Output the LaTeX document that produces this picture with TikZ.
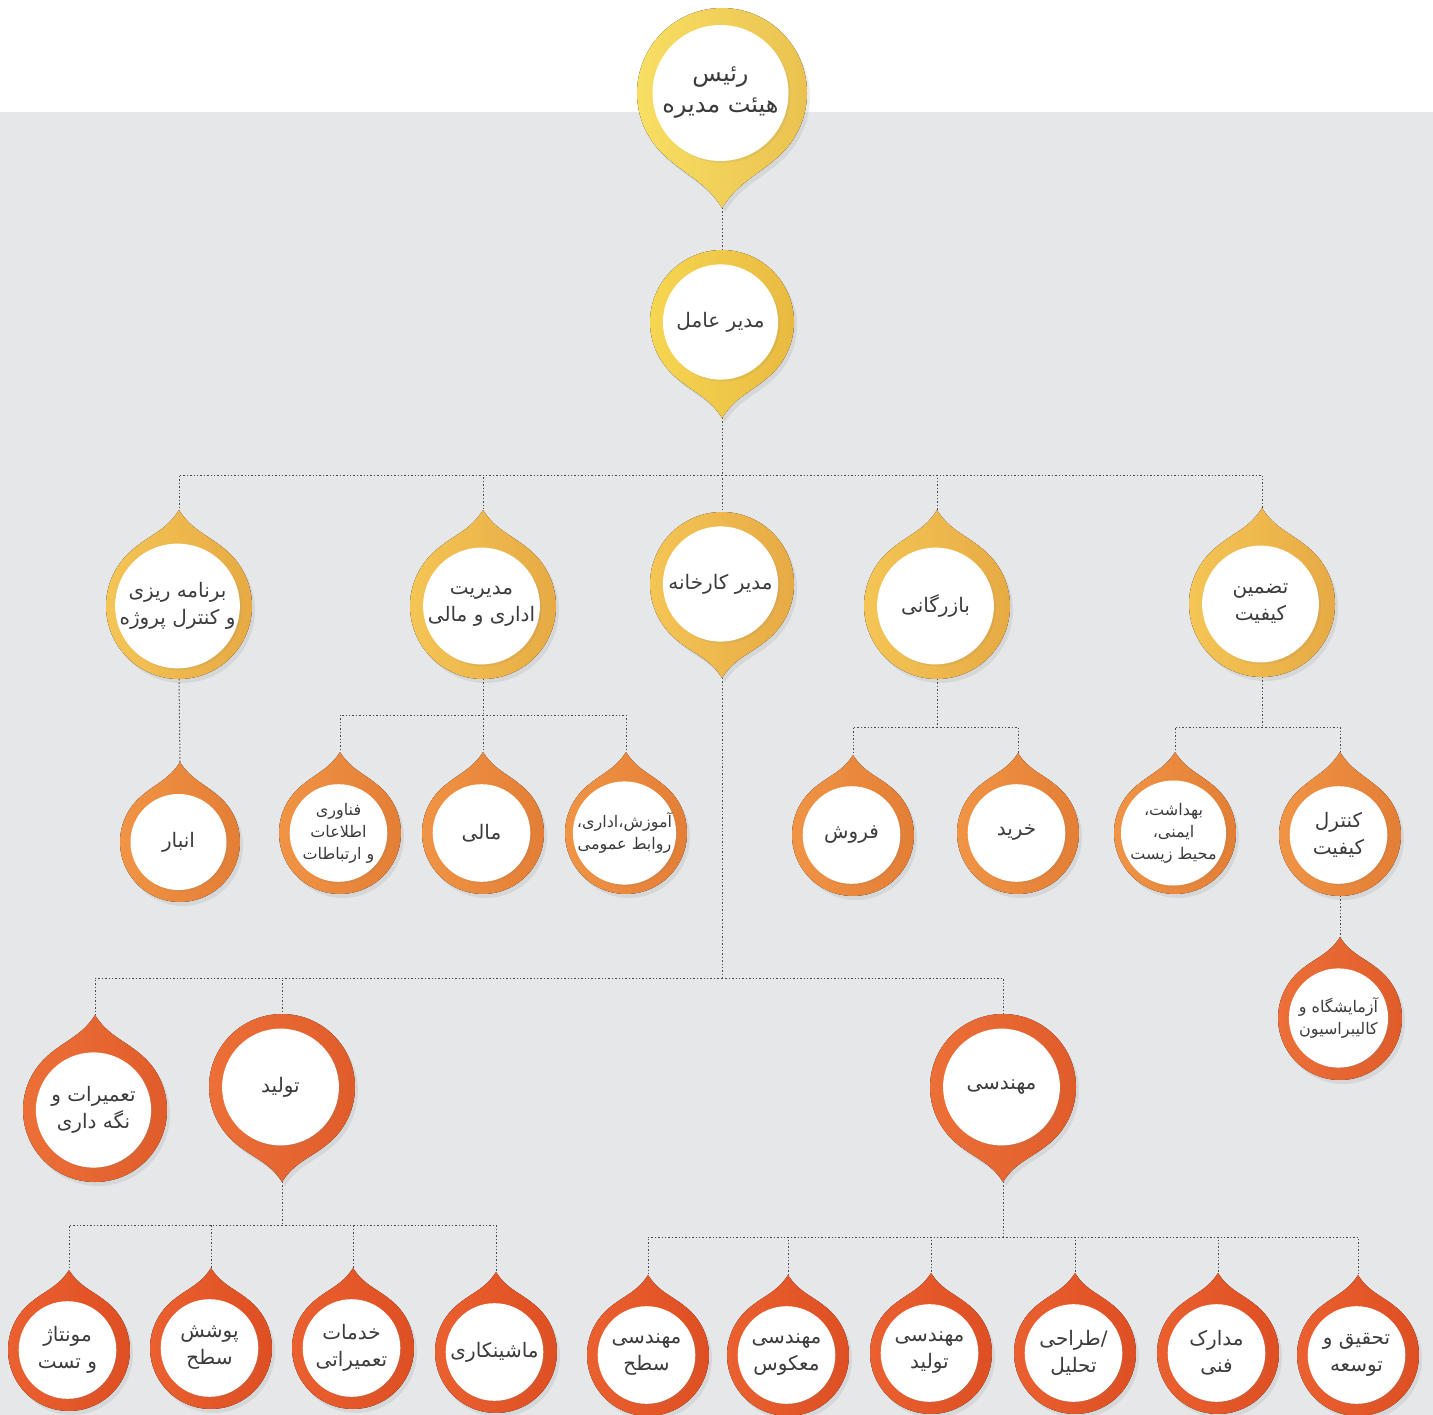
\documentclass[tikz,border=0pt]{standalone}
\usepackage{fontspec}
\newfontfamily\arabicfont[Script=Arabic]{DejaVu Sans}
\TeXXeTstate=1
\usetikzlibrary{shadows}

\definecolor{bgcol}{HTML}{E6E7E9}
\definecolor{wirecol}{HTML}{4A4A4A}
\definecolor{txtcol}{HTML}{3C3C3C}
\definecolor{lvA}{HTML}{F8DE5C}
\definecolor{lvB}{HTML}{F6D54A}
\definecolor{lvC}{HTML}{F4C34E}
\definecolor{lvD}{HTML}{F0903D}
\definecolor{lvE}{HTML}{EC6A30}
\definecolor{lvF}{HTML}{EA5A27}

\newcommand{\rl}[1]{\beginR#1\endR}

\tikzset{
	drop body/.style={
		left color=#1!96!white,
		right color=#1!92!red!94!black,
		drop shadow={opacity=.15, shadow xshift=3pt, shadow yshift=-4pt}
	},
	label disc/.style={
		circle,
		fill=white,
		inner sep=0pt,
		align=center,
		text=txtcol,
		drop shadow={opacity=.12, shadow xshift=2pt, shadow yshift=-2pt}
	},
	tipup/.style={},
	tipdown/.style={yscale=-1},
	big text/.style={font=\arabicfont\fontsize{24}{31}\selectfont},
	small text/.style={font=\arabicfont\fontsize{16}{22}\selectfont},
	wire/.style={
		draw=wirecol,
		line width=1pt,
		dash pattern=on 1.4pt off 2pt
	},
}

% #1 name, #2 centre, #3 radius, #4 tip height, #5 colour, #6 options, #7 text
\newcommand{\drop}[7]{%
	\begin{scope}[shift={#2}, font=\arabicfont\fontsize{20}{27}\selectfont, #6]
		\fill[drop body=#5] (0,#4) to[out=-58,in=138] (48:#3)
			arc[start angle=48, end angle=-228, radius=#3]
			to[out=42,in=-122] (0,#4) -- cycle;
		\coordinate (#1-tip) at (0,#4);
		\coordinate (#1-base) at (0,-#3);
		\node[label disc, minimum size={1.6*#3*1pt}] (#1) at (-1.5,0) {#7};
	\end{scope}}

\begin{document}
\begin{tikzpicture}[x=1pt, y=1pt]

\useasboundingbox (0,0) rectangle (1433,-1415);
\fill[white] (0,0) rectangle (1433,-112);
\fill[bgcol] (0,-112) rectangle (1433,-1415);

% top
\drop{chair}{(722,-93)}{85}{115}{lvA}{tipdown, big text}{\rl{رئیس}\\\rl{هیئت مدیره}}
\drop{ceo}{(722,-322)}{72}{96}{lvB}{tipdown}{\rl{مدیر عامل}}

% second level
\drop{plan}{(179,-606)}{73}{96}{lvC}{tipup}{\rl{برنامه ریزی}\\\rl{و کنترل پروژه}}
\drop{admin}{(483,-606)}{73}{96}{lvC}{tipup}{\rl{مدیریت}\\\rl{اداری و مالی}}
\drop{factory}{(722,-584)}{72}{94}{lvC}{tipdown}{\rl{مدیر کارخانه}}
\drop{trade}{(937,-606)}{73}{96}{lvC}{tipup}{\rl{بازرگانی}}
\drop{qa}{(1262,-604)}{73}{96}{lvC}{tipup}{\rl{تضمین}\\\rl{کیفیت}}

% third level
\drop{store}{(180,-842)}{60}{80}{lvD}{tipup}{\rl{انبار}}
\drop{it}{(340,-833)}{61}{81}{lvD}{tipup, small text}{\rl{فناوری}\\\rl{اطلاعات}\\\rl{و ارتباطات}}
\drop{fin}{(483,-833)}{61}{81}{lvD}{tipup}{\rl{مالی}}
\drop{hr}{(626,-833)}{61}{81}{lvD}{tipup, small text}{\rl{آموزش،اداری،}\\\rl{روابط عمومی}}
\drop{sales}{(853,-835)}{61}{80}{lvD}{tipup}{\rl{فروش}}
\drop{buy}{(1018,-833)}{61}{80}{lvD}{tipup}{\rl{خرید}}
\drop{hse}{(1175,-833)}{61}{81}{lvD}{tipup, small text}{\rl{بهداشت،}\\\rl{ایمنی،}\\\rl{محیط زیست}}
\drop{qc}{(1340,-835)}{61}{83}{lvD}{tipup}{\rl{کنترل}\\\rl{کیفیت}}
\drop{lab}{(1340,-1018)}{62}{81}{lvE}{tipup, small text}{\rl{آزمایشگاه و}\\\rl{کالیبراسیون}}

% factory
\drop{maint}{(95,-1110)}{72}{95}{lvE}{tipup}{\rl{تعمیرات و}\\\rl{نگه داری}}
\drop{prod}{(282,-1087)}{73}{95}{lvE}{tipdown}{\rl{تولید}}
\drop{eng}{(1003,-1087)}{73}{95}{lvE}{tipdown}{\rl{مهندسی}}

% bottom row
\foreach \n/\x/\y/\t in {asm/69/1350/{\rl{مونتاژ}\\\rl{و تست}},
	coat/211/1348/{\rl{پوشش}\\\rl{سطح}},
	serv/353/1348/{\rl{خدمات}\\\rl{تعمیراتی}},
	mach/496/1352/{\rl{ماشینکاری}},
	surf/648/1355/{\rl{مهندسی}\\\rl{سطح}},
	rev/788/1355/{\rl{مهندسی}\\\rl{معکوس}},
	peng/931/1353/{\rl{مهندسی}\\\rl{تولید}},
	des/1075/1353/{\rl{طراحی}/\\\rl{تحلیل}},
	doc/1218/1353/{\rl{مدارک}\\\rl{فنی}},
	rnd/1358/1355/{\rl{تحقیق و}\\\rl{توسعه}}}
	{\drop{\n}{(\x,-\y)}{61}{80}{lvF}{tipup}{\t}}

% connectors
\coordinate (ceo-bus) at (722,-475);
\coordinate (admin-bus) at (483,-715);
\coordinate (trade-bus) at (937,-727);
\coordinate (qa-bus) at (1262,-727);
\coordinate (factory-bus) at (722,-978);
\coordinate (prod-bus) at (282,-1225);
\coordinate (eng-bus) at (1003,-1237);

\draw[wire] (chair-tip) -- (ceo-base);
\draw[wire] (ceo-tip) -- (ceo-bus);
\foreach \n/\a in {plan/tip, admin/tip, factory/base, trade/tip, qa/tip}
	\draw[wire] (ceo-bus) -| (\n-\a);

\draw[wire] (plan-base) -- (store-tip);

\draw[wire] (admin-base) -- (admin-bus);
\foreach \n in {it, fin, hr}
	\draw[wire] (admin-bus) -| (\n-tip);

\draw[wire] (trade-base) -- (trade-bus);
\foreach \n in {sales, buy}
	\draw[wire] (trade-bus) -| (\n-tip);

\draw[wire] (qa-base) -- (qa-bus);
\foreach \n in {hse, qc}
	\draw[wire] (qa-bus) -| (\n-tip);
\draw[wire] (qc-base) -- (lab-tip);

\draw[wire] (factory-tip) -- (factory-bus);
\foreach \n/\a in {maint/tip, prod/base, eng/base}
	\draw[wire] (factory-bus) -| (\n-\a);

\draw[wire] (prod-tip) -- (prod-bus);
\foreach \n in {asm, coat, serv, mach}
	\draw[wire] (prod-bus) -| (\n-tip);

\draw[wire] (eng-tip) -- (eng-bus);
\foreach \n in {surf, rev, peng, des, doc, rnd}
	\draw[wire] (eng-bus) -| (\n-tip);

\end{tikzpicture}
\end{document}
